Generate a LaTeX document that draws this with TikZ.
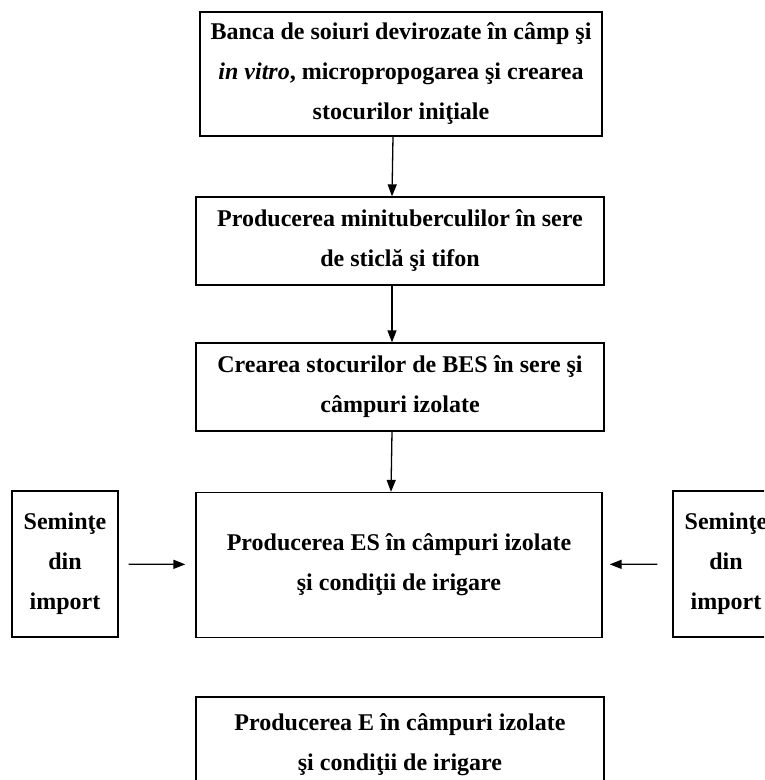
\documentclass[tikz,border=0pt]{standalone}
\usepackage{fontspec}
\setmainfont{Liberation Serif}
\usetikzlibrary{arrows.meta}
\tikzset{
  box/.style={draw, line width=1.3pt, align=center, inner sep=0pt,
    font=\fontsize{24}{40}\selectfont\bfseries},
  arr/.style={-{Triangle[length=12pt,width=9pt]}, line width=1.3pt}
}
\begin{document}
\begin{tikzpicture}[x=1pt, y=-1pt]
        \useasboundingbox (0,0) rectangle (764,780);
        \clip (0,0) rectangle (764,780);
        % main column
        \node[box, minimum width=402pt, minimum height=124pt] (bank) at (401,74)
          {Banca de soiuri devirozate în câmp şi\\ \textit{in vitro}, micropropogarea şi crearea\\ stocurilor iniţiale};
        \node[box, minimum width=408pt, minimum height=88pt] (mini) at (400,241)
          {Producerea minituberculilor în sere\\ de sticlă şi tifon};
        \node[box, minimum width=408pt, minimum height=88pt] (bes) at (400,387)
          {Crearea stocurilor de BES în sere şi\\ câmpuri izolate};
        \node[box, minimum width=406pt, minimum height=145pt] (es) at (399,565)
          {Producerea ES în câmpuri izolate\\ şi condiţii de irigare};
        \node[box, minimum width=408pt, minimum height=96pt] (e) at (400,745)
          {Producerea E în câmpuri izolate\\ şi condiţii de irigare};
        % side boxes
        \node[box, minimum width=106pt, minimum height=146pt] (impL) at (65,564)
          {Seminţe\\ din\\ import};
        \node[box, minimum width=106pt, minimum height=146pt] (impR) at (726,564)
          {Seminţe\\ din\\ import};
        % arrows
        \draw[arr] ([xshift=-8pt]bank.south) -- ([xshift=-8pt]mini.north);
        \draw[arr] ([xshift=-8pt]mini.south) -- ([xshift=-8pt]bes.north);
        \draw[arr] ([xshift=-8pt]bes.south) -- ([xshift=-8pt]es.north);
        \draw[arr, shorten <=10pt, shorten >=10pt] (impL) -- (es);
        \draw[arr, shorten <=15pt, shorten >=7pt] (impR) -- (es);
\end{tikzpicture}
\end{document}
